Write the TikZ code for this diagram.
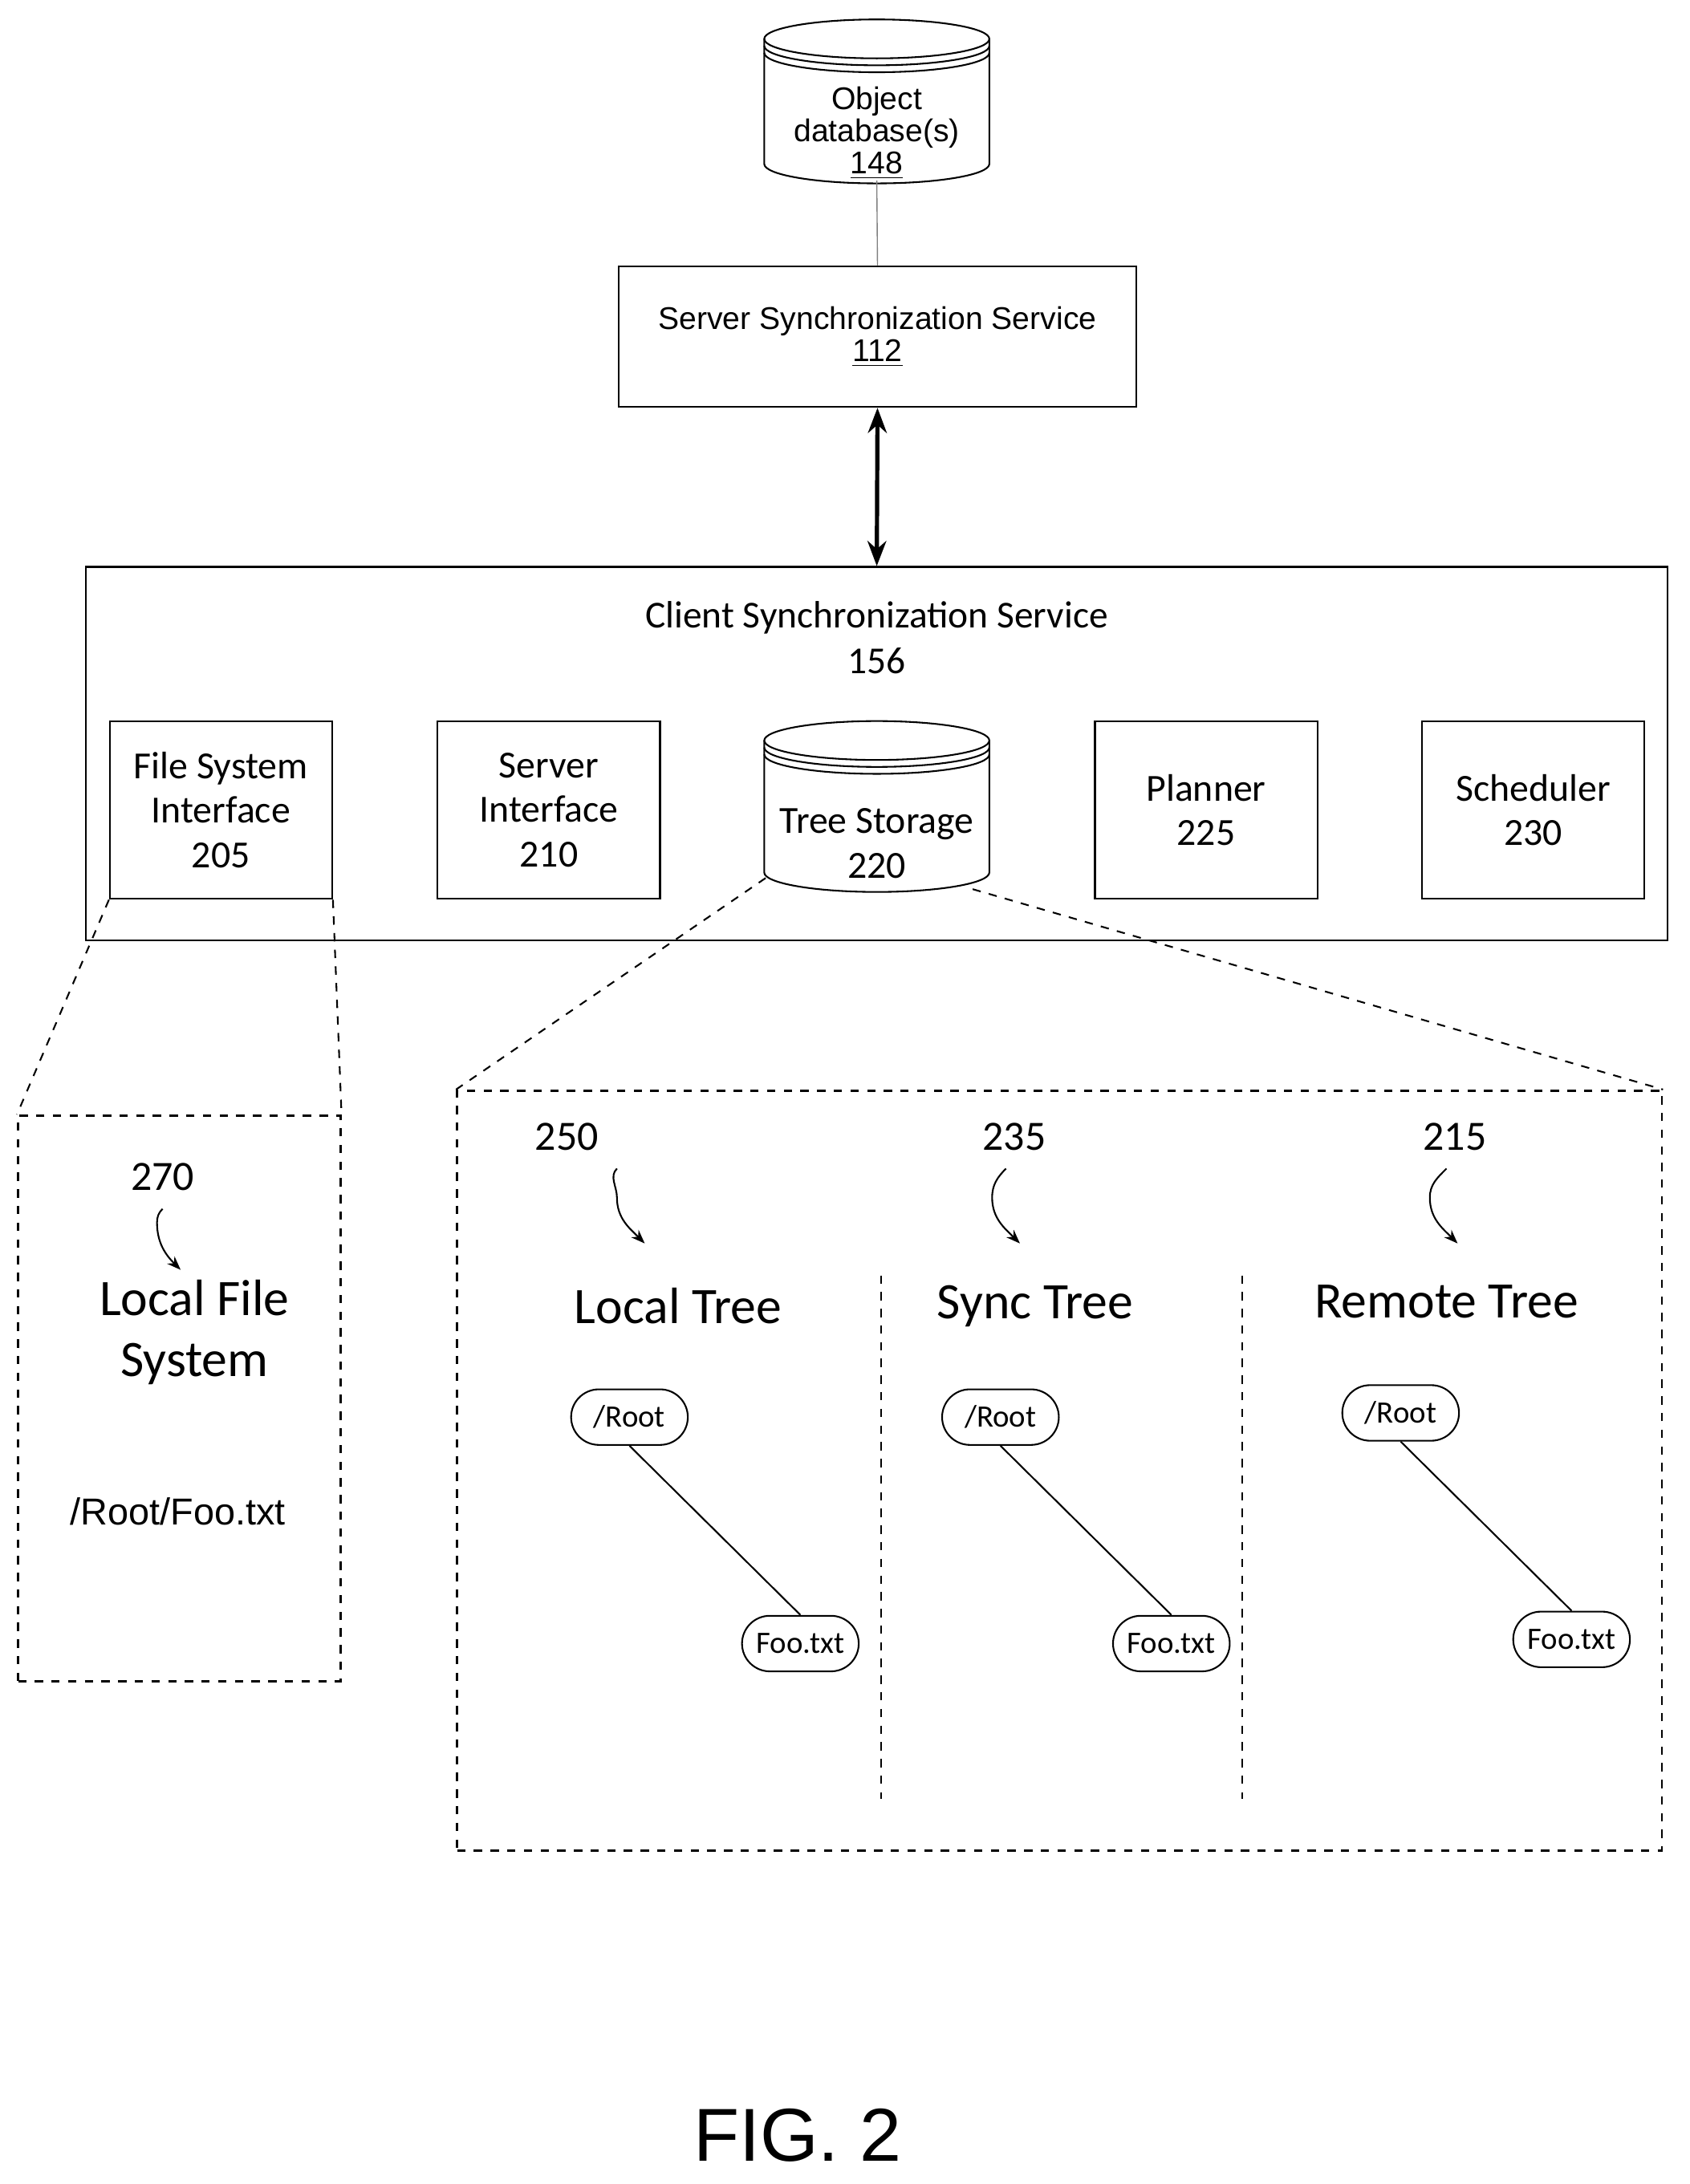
\documentclass[tikz,border=0pt]{standalone}
\usepackage{fontspec}
\setmainfont{Carlito}
\newfontfamily\arialf{Liberation Sans}
\usetikzlibrary{arrows.meta}

% cylinder drawn by hand: centre x, top y, bottom y
\newcommand{\dbcyl}[3]{%
  \draw (#1,#2) ellipse (40.5pt and 7pt);
  \draw ([xshift=-40.5pt]#1,#2+5) arc[start angle=180,end angle=360,x radius=40.5pt,y radius=7pt];
  \draw ([xshift=-40.5pt]#1,#2+10) arc[start angle=180,end angle=360,x radius=40.5pt,y radius=7pt];
  \draw ([xshift=-40.5pt]#1,#2) -- ([xshift=-40.5pt]#1,#3)
    arc[start angle=180,end angle=360,x radius=40.5pt,y radius=7pt]
    -- ([xshift=40.5pt]#1,#2);
}

\tikzset{
  box/.style={draw, minimum width=80pt, minimum height=64pt, align=center, font=\fontsize{13.8}{16}\selectfont},
  dbtext/.style={align=center, inner sep=0pt},
  dashbox/.style={draw, dashed, thick},
  zoomline/.style={dashed},
  tnode/.style={draw, rounded corners=10pt, minimum width=42pt, minimum height=20pt, inner sep=2pt, font=\fontsize{11.2}{13}\selectfont},
  title/.style={font=\fontsize{18.4}{22}\selectfont, align=center},
  refnum/.style={font=\fontsize{15}{17}\selectfont},
  squig/.style={-{Stealth[length=5pt]}}
}

\begin{document}
\begin{tikzpicture}[x=0.5pt,y=-0.5pt,semithick]
\useasboundingbox (0,0) rectangle (1216,1572);

% database and server
\dbcyl{631}{28}{118}
\node[dbtext, font=\arialf\fontsize{11.3}{11.5}\selectfont] (db) at (631,96) {Object\\database(s)\\\underline{148}};
\coordinate (dbbot) at (631,130);
\node[draw, minimum width=186.5pt, minimum height=50.5pt, align=center, font=\arialf\fontsize{11.3}{11.5}\selectfont]
  (server) at (631.5,242.5) {Server Synchronization Service\\\underline{112}};
\draw[gray, thin] (dbbot) -- (server.north);

% client service
\node[draw, minimum width=569pt, minimum height=134.5pt] (client) at (631,542.5) {};
\node[font=\fontsize{13.7}{16.5}\selectfont, align=center] (clabel) at (631,459) {Client Synchronization Service\\156};
\draw[{Stealth[length=9pt]}-{Stealth[length=9pt]}, line width=1.5pt] (server.south) -- (client.north);

\node[box] (fsi) at (159,583) {File System\\Interface\\205};
\node[box] (si) at (395,583) {Server\\Interface\\210};
\dbcyl{631}{533}{628}
\node[dbtext, font=\fontsize{13.8}{16}\selectfont] (ts) at (631,607) {Tree Storage\\220};
\coordinate (tsl) at (551,632);
\coordinate (tsr) at (700,640);
\node[box] (plan) at (868,583) {Planner\\225};
\node[box] (sched) at (1103.5,583) {Scheduler\\230};

% zoomed views
\node[dashbox, minimum width=116pt, minimum height=203.5pt] (lfs) at (129,1006.5) {};
\node[dashbox, minimum width=433.5pt, minimum height=273.5pt] (trees) at (762.5,1058.5) {};
\draw[zoomline] (fsi.south west) -- (lfs.north west);
\draw[zoomline] (fsi.south east) -- (lfs.north east);
\draw[zoomline] (tsl) -- (trees.north west);
\draw[zoomline] (tsr) -- (trees.north east);

\coordinate (sep1a) at (634,918); \coordinate (sep1b) at (634,1295);
\coordinate (sep2a) at (894,918); \coordinate (sep2b) at (894,1295);
\draw[dashed] (sep1a) -- (sep1b);
\draw[dashed] (sep2a) -- (sep2b);

% reference numbers
\node[refnum] (r270) at (117,847) {270};
\node[refnum] (r250) at (408,818) {250};
\node[refnum] (r235) at (730,818) {235};
\node[refnum] (r215) at (1047,818) {215};
\coordinate (a270) at (130,914);
\coordinate (a250) at (464,895);
\coordinate (a235) at (734,895);
\coordinate (a215) at (1049,895);
\draw[squig] ([yshift=-3pt]r270.south) to[out=225,in=90] (113,880) to[out=270,in=135] (a270);
\draw[squig] ([xshift=18pt,yshift=-3pt]r250.south) to[out=225,in=90] (444,862) to[out=270,in=135] (a250);
\draw[squig] ([xshift=-3pt,yshift=-3pt]r235.south) to[out=225,in=90] (714,862) to[out=270,in=135] (a235);
\draw[squig] ([xshift=-3pt,yshift=-3pt]r215.south) to[out=225,in=90] (1029,862) to[out=270,in=135] (a215);

% local file system
\node[title] (lfst) at (140,959) {Local File\\System};
\node[font=\arialf\fontsize{13.5}{14}\selectfont] (path) at (128,1088) {/Root/Foo.txt};

% trees
\node[title] (lt) at (488,940) {Local Tree};
\node[title] (st) at (745,940) {Sync Tree};
\node[title] (rt) at (1041,937) {Remote Tree};
\node[tnode] (root1) at (453,1020) {/Root};
\node[tnode] (foo1) at (576,1183) {Foo.txt};
\node[tnode] (root2) at (720,1020) {/Root};
\node[tnode] (foo2) at (843,1183) {Foo.txt};
\node[tnode] (root3) at (1008,1017) {/Root};
\node[tnode] (foo3) at (1131,1180) {Foo.txt};
\draw (root1.south) -- (foo1.north);
\draw (root2.south) -- (foo2.north);
\draw (root3.south) -- (foo3.north);

\node[font=\arialf\fontsize{27}{30}\selectfont] (fig) at (574,1537) {FIG. 2};
\end{tikzpicture}
\end{document}
